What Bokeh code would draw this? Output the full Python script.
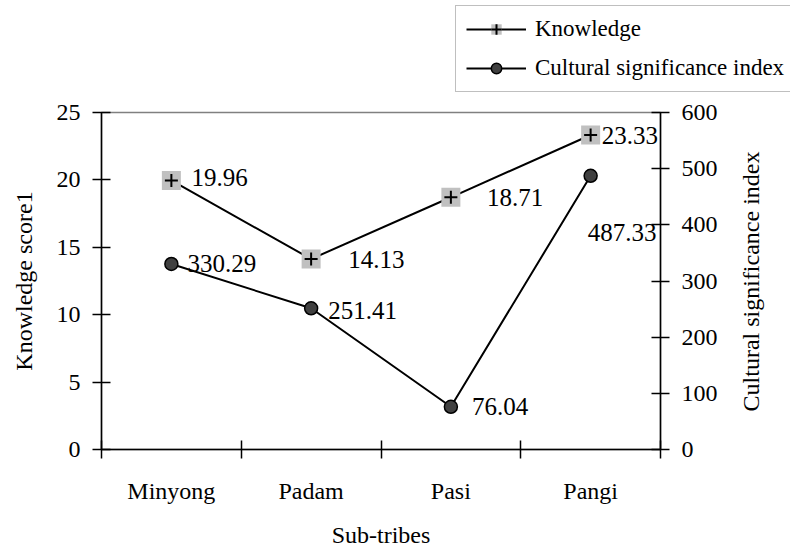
import math
from bokeh.plotting import figure
from bokeh.layouts import column, row
from bokeh.models import LinearAxis, Range1d, FixedTicker, Legend, LegendItem, ColumnDataSource
from bokeh.embed import file_html
from bokeh.resources import INLINE
from bokeh.core.properties import value

# ---- data ----
categories = ["Minyong", "Padam", "Pasi", "Pangi"]
knowledge = [19.96, 14.13, 18.71, 23.33]
csi = [330.29, 251.41, 76.04, 487.33]
left_ticks = [0, 5, 10, 15, 20, 25]
right_ticks = [0, 100, 200, 300, 400, 500, 600]
series_names = ["Knowledge", "Cultural significance index"]
x_title = "Sub-tribes"
y_title = "Knowledge score1"
y2_title = "Cultural significance index"

# ---- style ----
FONT = "Liberation Serif"
FS = "24px"
FS_LAB = "25px"
FS_LEG = "23px"
k_dx = [20, 37, 36, 11]
k_dy = [-3, 0, 0, 0]
c_dx = [16, 17, 21, -3]
c_dy = [0, 2, 0, 57]

SQ = dict(marker="square", size=19, fill_color="#C0C0C0", line_color=None)
CR = dict(marker="cross", size=13, line_color="black", line_width=2)
CI = dict(marker="circle", size=13, fill_color="#404040", line_color="black", line_width=1.5)
LN = dict(line_color="black", line_width=2)

n = len(categories)
xs = [i + 0.5 for i in range(n)]
bounds = [float(i) for i in range(n + 1)]

ks = ColumnDataSource(dict(x=xs, y=knowledge, t=[f"{v:.2f}" for v in knowledge], dx=k_dx, dy=k_dy))
cs = ColumnDataSource(dict(x=xs, y=csi, t=[f"{v:.2f}" for v in csi], dx=c_dx, dy=c_dy))


def style_axis(ax):
    ax.axis_line_color = "black"
    ax.axis_line_width = 1.5
    ax.major_tick_line_color = "black"
    ax.major_tick_line_width = 1.5
    ax.major_label_text_font = FONT
    ax.major_label_text_font_size = FS
    ax.major_label_text_color = "black"
    ax.axis_label_text_font = FONT
    ax.axis_label_text_font_size = FS
    ax.axis_label_text_font_style = "normal"
    ax.axis_label_text_color = "black"


# ---- main chart ----
p = figure(width=720, height=458, x_range=Range1d(0, n), y_range=Range1d(0, left_ticks[-1]),
           output_backend="svg", toolbar_location=None,
           min_border_left=101, min_border_right=58, min_border_top=20, min_border_bottom=100)
p.frame_align = False
p.background_fill_color = "white"
p.border_fill_color = "white"
p.xgrid.visible = False
p.ygrid.visible = False
p.outline_line_color = "#808080"
p.outline_line_width = 1.5

p.extra_y_ranges = {"csi": Range1d(0, right_ticks[-1])}
rax = LinearAxis(y_range_name="csi", ticker=FixedTicker(ticks=right_ticks))
p.add_layout(rax, "right")

xa = p.xaxis[0]
xa.ticker = FixedTicker(ticks=xs, minor_ticks=bounds)
xa.major_label_overrides = {x: c for x, c in zip(xs, categories)}
xa.major_tick_in = 0
xa.major_tick_out = 0
xa.minor_tick_in = 9
xa.minor_tick_out = 9
xa.minor_tick_line_color = "black"
xa.minor_tick_line_width = 1.5
xa.major_label_standoff = 19
xa.axis_label = x_title
xa.axis_label_standoff = 15

ya = p.yaxis[0]
ya.ticker = FixedTicker(ticks=left_ticks)
ya.axis_label = y_title
ya.major_label_standoff = 12
ya.axis_label_standoff = 17

rax.major_label_standoff = 12

for ax in [xa, ya, rax]:
    style_axis(ax)
for ax in [ya, rax]:
    ax.major_tick_in = 9
    ax.major_tick_out = 9
    ax.minor_tick_line_color = None

p.line("x", "y", source=ks, **LN)
p.scatter("x", "y", source=ks, **SQ)
p.scatter("x", "y", source=ks, **CR)

p.line("x", "y", source=cs, y_range_name="csi", **LN)
p.scatter("x", "y", source=cs, y_range_name="csi", **CI)

p.text("x", "y", text="t", source=ks, x_offset="dx", y_offset="dy", text_align="left",
       text_baseline="middle", text_font=value(FONT), text_font_size=FS_LAB, text_color="black")
p.text("x", "y", text="t", source=cs, y_range_name="csi", x_offset="dx", y_offset="dy",
       text_align="left", text_baseline="middle", text_font=value(FONT), text_font_size=FS_LAB,
       text_color="black")

# ---- strip holding the right-hand axis title (reads bottom to top) ----
rf = figure(width=70, height=458, x_range=Range1d(0, 1), y_range=Range1d(0, 1),
            output_backend="svg", toolbar_location=None, x_axis_location=None,
            min_border_left=43, min_border_right=0, min_border_top=20, min_border_bottom=100)
rf.frame_align = False
rf.xgrid.visible = False
rf.ygrid.visible = False
rf.outline_line_color = None
rf.background_fill_color = "white"
rf.border_fill_color = "white"
tax = rf.yaxis[0]
tax.ticker = FixedTicker(ticks=[])
style_axis(tax)
tax.axis_line_color = None
tax.major_tick_line_color = None
tax.minor_tick_line_color = None
tax.major_tick_out = 0
tax.major_tick_in = 0
tax.major_label_standoff = 0
tax.axis_label = y2_title
tax.axis_label_standoff = 0

# ---- legend strip above the chart ----
lf = figure(width=790, height=92, x_range=Range1d(0, 1), y_range=Range1d(0, 1),
            output_backend="svg", toolbar_location=None,
            x_axis_location=None, y_axis_location=None,
            min_border_left=455, min_border_right=0, min_border_top=0, min_border_bottom=0)
lf.frame_align = False
lf.xgrid.visible = False
lf.ygrid.visible = False
lf.outline_line_color = None
lf.background_fill_color = "white"
lf.border_fill_color = "white"
r1 = [lf.line("x", "y", source=ks, **LN), lf.scatter("x", "y", source=ks, **SQ),
      lf.scatter("x", "y", source=ks, **CR)]
r2 = [lf.line("x", "y", source=cs, **LN), lf.scatter("x", "y", source=cs, **CI)]
for r in r1 + r2:
    r.visible = False

legend = Legend(items=[LegendItem(label=series_names[0], renderers=r1),
                       LegendItem(label=series_names[1], renderers=r2)],
                location="bottom_left", orientation="vertical")
legend.label_text_font = FONT
legend.label_text_font_size = FS_LEG
legend.label_text_color = "black"
legend.glyph_width = 60
legend.glyph_height = 26
legend.label_height = 26
legend.label_standoff = 9
legend.spacing = 13
legend.padding = 10
legend.margin = 0
legend.inactive_fill_alpha = 0
legend.border_line_color = "#808080"
legend.border_line_width = 1.5
legend.background_fill_color = "white"
legend.background_fill_alpha = 1
lf.add_layout(legend, "center")

layout = column(lf, row(p, rf, spacing=0), spacing=0)
open("out.html", "w").write(file_html(layout, INLINE))
